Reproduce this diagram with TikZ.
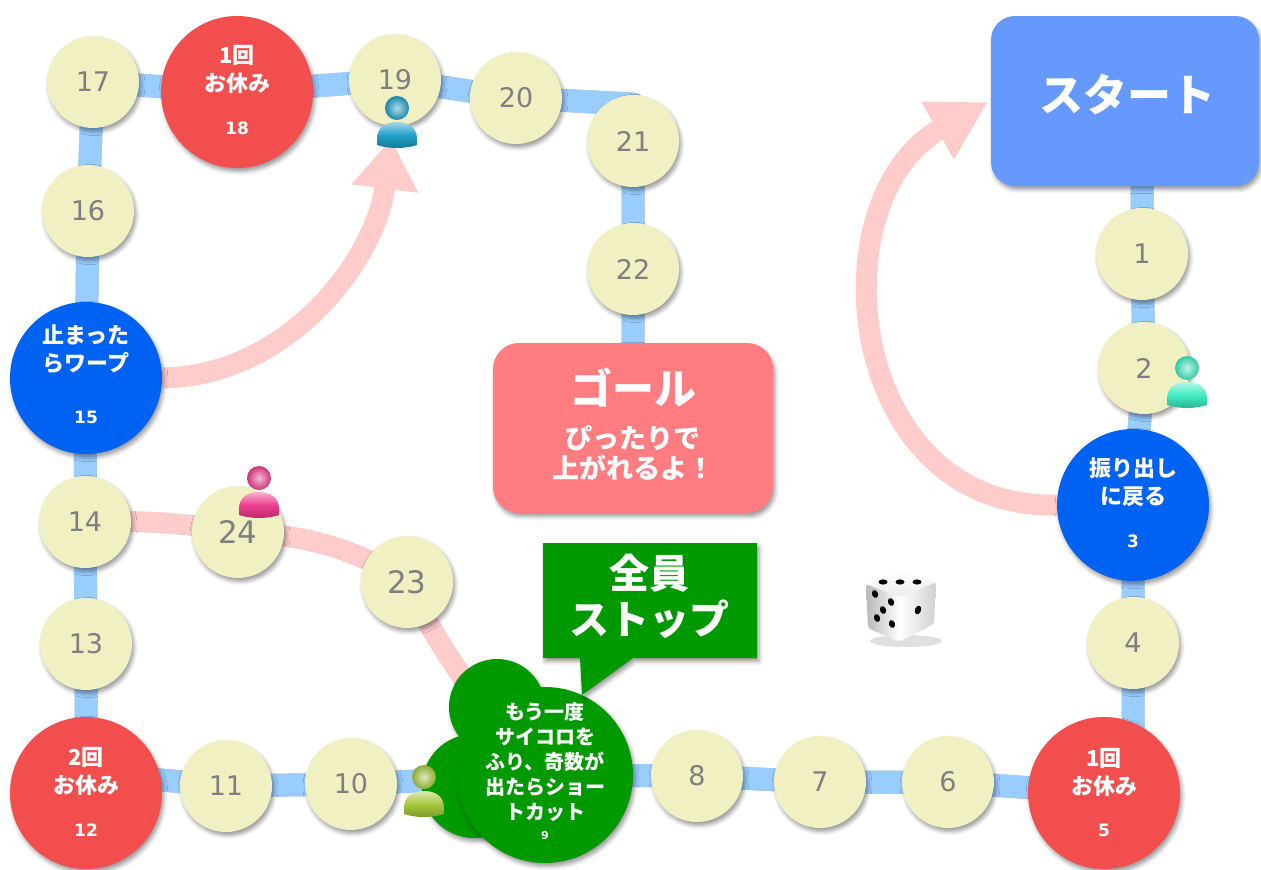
\documentclass[tikz,border=0pt]{standalone}
\usepackage{fontspec}
\newfontfamily\jp{Noto Sans CJK JP}
\newfontfamily\num{DejaVu Sans}
\usetikzlibrary{calc,arrows.meta,shadows.blur}

\definecolor{cellfill}{HTML}{F0F0C2}
\definecolor{numgrey}{HTML}{7F7F7F}
\definecolor{boardred}{HTML}{F24E4E}
\definecolor{boardblue}{HTML}{0062F2}
\definecolor{boardgreen}{HTML}{009900}
\definecolor{goalpink}{HTML}{FF7C80}
\definecolor{startblue}{HTML}{6699FF}
\definecolor{trackblue}{HTML}{99CCFF}
\definecolor{pinkpath}{HTML}{FFCCCC}
\definecolor{personblue}{HTML}{1E9FC8}
\definecolor{personpink}{HTML}{EE3C8C}
\definecolor{personteal}{HTML}{3EEBC0}
\definecolor{persongreen}{HTML}{A5C83A}

\pgfdeclarelayer{bg}
\pgfsetlayers{bg,main}

\tikzset{
  shadowed/.style={blur shadow={shadow xshift=2pt, shadow yshift=-3.5pt,
      shadow blur radius=4pt, shadow opacity=40}},
  cell/.style={circle, minimum size=92pt, inner sep=0pt, fill=cellfill,
      text=numgrey, font=\num\fontsize{27}{27}\selectfont, shadowed},
  bigcell/.style={circle, minimum size=152pt, inner sep=0pt, shadowed},
  blob/.style={circle, minimum size=96pt, inner sep=0pt, fill=boardgreen, shadowed},
  sqtext/.style={text=white, font=\jp\bfseries\fontsize{22}{28}\selectfont,
      align=center, inner sep=0pt},
  sqnum/.style={text=white, font=\num\bfseries\fontsize{17}{17}\selectfont, inner sep=0pt},
  track/.style={draw=trackblue, line width=23pt, line join=round},
  trackshadow/.style={draw=black!22, line width=23pt, line join=round},
  shortcut/.style={draw=pinkpath, line width=21pt},
  warp/.style={draw=pinkpath, line width=21pt},
  pics/person/.style={code={
    \shade[top color=#1!40!white, bottom color=#1!75!black, middle color=#1]
      (-20,37) -- (-20,31) .. controls (-20,20) and (-12,14) .. (0,14)
      .. controls (12,14) and (20,20) .. (20,31) -- (20,37)
      .. controls (8,41) and (-8,41) .. cycle;
    \shade[inner color=#1!35!white, outer color=#1!85!black] (0,0) circle (12pt);
  }},
}

% the route of the board, from the start to the goal
\def\route{(n1 |- start.center) -- (n1.center) -- (n2.center) -- (n3.center)
  -- (n4.center) -- (n4 |- n5) -- (n5.center) -- (n6.center) -- (n7.center)
  -- (n8.center) -- (n9.center) -- (n10.center) -- (n11.center) -- (c12)
  -- (n12.center) -- (n13.center) -- (n14.center) -- (n15.center) -- (n16.center)
  -- (n17.center) -- (n18.center) -- (n19.center) -- (n20.center) -- (c21)
  -- (n21.center) -- (n22.center) -- (goal.center)}

\begin{document}
\begin{tikzpicture}[x=1pt,y=-1pt]
\useasboundingbox (0,0) rectangle (1261,870);

% ---- board squares ----
\node[cell] (n1) at (1142,254) {1};
\node[cell] (n2) at (1144,368) {2};
\node[bigcell, fill=boardblue] (n3) at (1133,505) {};
\node[cell] (n4) at (1133,643) {4};
\node[bigcell, fill=boardred] (n5) at (1104,793) {};
\node[cell] (n6) at (948,782) {6};
\node[cell] (n7) at (820,782) {7};
\node[cell] (n8) at (697,776) {8};
\node[blob] (b9a) at (497,707) {};
\node[blob, minimum size=104pt] (b9b) at (474,786) {};
\node[circle, minimum size=176pt, inner sep=0pt, fill=boardgreen, shadowed] (n9) at (545,775) {};
\node[cell] (n10) at (351,784) {10};
\node[cell] (n11) at (226,786) {11};
\node[bigcell, fill=boardred] (n12) at (86,793) {};
\node[cell] (n13) at (86,644) {13};
\node[cell] (n14) at (85,522) {14};
\node[bigcell, fill=boardblue] (n15) at (86,378) {};
\node[cell] (n16) at (88,211) {16};
\node[cell] (n17) at (93,82) {17};
\node[bigcell, fill=boardred] (n18) at (237,92) {};
\node[cell] (n19) at (395,80) {19};
\node[cell] (n20) at (516,98) {20};
\node[cell] (n21) at (633,141) {21};
\node[cell] (n22) at (633,269) {22};
\node[cell, font=\num\fontsize{31}{31}\selectfont] (n23) at (407,582) {23};
\node[cell, font=\num\fontsize{31}{31}\selectfont] (n24) at (238,532) {24};

% ---- start and goal ----
\node[rectangle, rounded corners=24pt, minimum width=268pt, minimum height=170pt,
      fill=startblue, shadowed] (start) at (1125,101) {};
\node[text=white, font=\jp\bfseries\fontsize{44}{44}\selectfont] (starttext)
      at ($(start)+(2,-6)$) {スタート};
\node[rectangle, rounded corners=26pt, minimum width=280pt, minimum height=170pt,
      fill=goalpink, shadowed] (goal) at (633,428) {};
\node[text=white, font=\jp\bfseries\fontsize{42}{42}\selectfont, inner sep=0pt]
      (goaltitle) at ($(goal)+(0,-41)$) {ゴール};
\node[text=white, font=\jp\bfseries\fontsize{27}{30}\selectfont, align=center, inner sep=0pt]
      (goalsub) at ($(goal)+(0,25)$) {ぴったりで\\上がれるよ！};

% ---- labels of the special squares ----
\node[sqtext] (t3) at ($(n3)+(0,-23)$) {振り出し\\に戻る};
\node[sqnum] (m3) at ($(n3)+(0,36)$) {3};
\node[sqtext] (t5) at ($(n5)+(0,-21)$) {1回\\お休み};
\node[sqnum] (m5) at ($(n5)+(0,37)$) {5};
\node[sqtext] (t12) at ($(n12)+(0,-22)$) {2回\\お休み};
\node[sqnum] (m12) at ($(n12)+(0,37)$) {12};
\node[sqtext] (t15) at ($(n15)+(0,-29)$) {止まった\\らワープ};
\node[sqnum] (m15) at ($(n15)+(0,39)$) {15};
\node[sqtext] (t18) at ($(n18)+(0,-23)$) {1回\\お休み};
\node[sqnum] (m18) at ($(n18)+(0,36)$) {18};
\node[sqtext, font=\jp\bfseries\fontsize{20}{25.2}\selectfont] (t9) at ($(n9)+(0,-13)$)
      {もう一度\\サイコロを\\ふり、奇数が\\出たらショー\\トカット};
\node[sqnum, font=\num\bfseries\fontsize{11}{11}\selectfont] (m9) at ($(n9)+(0,60)$) {9};

% ---- callout ----
\fill[boardgreen, shadowed] (543,543) -- (757,543) -- (757,658) -- (633,658)
      -- (582,695) -- (580,658) -- (543,658) -- cycle;
\node[text=white, font=\jp\bfseries\fontsize{40}{46}\selectfont, align=center, inner sep=0pt]
      (stop) at (649,596) {全員\\ストップ};

% ---- tracks and warp arrows, behind the squares ----
\coordinate (c12) at ($(n12)+(0,-20)$);
\coordinate (c21) at (633,104);
\coordinate (w19) at (391,139);
\coordinate (s0) at (988,102);
\begin{pgfonlayer}{bg}
\begin{scope}[shift={(2.5,2.5)}]
\draw[trackshadow] \route;
\end{scope}
\draw[track] \route;
\draw[shortcut] (n14.center) .. controls (150,520) and (190,524) .. (n24.center)
  .. controls (300,535) and (350,545) .. (n23.center)
  .. controls (430,630) and (470,700) .. (n9.center);
\draw[warp, -{Triangle[length=50pt,width=64pt]}] (n15.east)
  .. controls (290,376) and (376,258) .. (w19);
\draw[warp, -{Triangle[length=58pt,width=62pt]}] (n3.west)
  .. controls (845,510) and (815,200) .. (s0);
\end{pgfonlayer}

% ---- players ----
\pic at (397,108) {person=personblue};
\pic at (259,478) {person=personpink};
\pic at (1187,368) {person=personteal};
\pic at (424,777) {person=persongreen};

% ---- die ----
\fill[black, opacity=.12] (906,641) ellipse [x radius=36pt, y radius=6pt];
\shade[left color=black!28, right color=white, rounded corners=3pt]
  (866,584) -- (900,597) -- (899,642) -- (868,628) -- cycle;
\shade[left color=white, right color=black!18, rounded corners=3pt]
  (900,597) -- (936,582) -- (934,624) -- (899,642) -- cycle;
\shade[top color=white, bottom color=black!8, rounded corners=3pt]
  (866,584) -- (902,571) -- (936,582) -- (900,597) -- cycle;
\foreach \px in {883,900,917}
  \fill[black] (\px,582) ellipse [x radius=4.5pt, y radius=2.6pt];
\foreach \px/\py in {875/594, 891/602, 883/610, 877/618, 892/624}
  \fill[black, rotate around={-70:(\px,\py)}] (\px,\py) ellipse [x radius=4pt, y radius=3pt];
\fill[black, rotate around={70:(918,610)}] (918,610) ellipse [x radius=4.5pt, y radius=3pt];
\end{tikzpicture}
\end{document}
